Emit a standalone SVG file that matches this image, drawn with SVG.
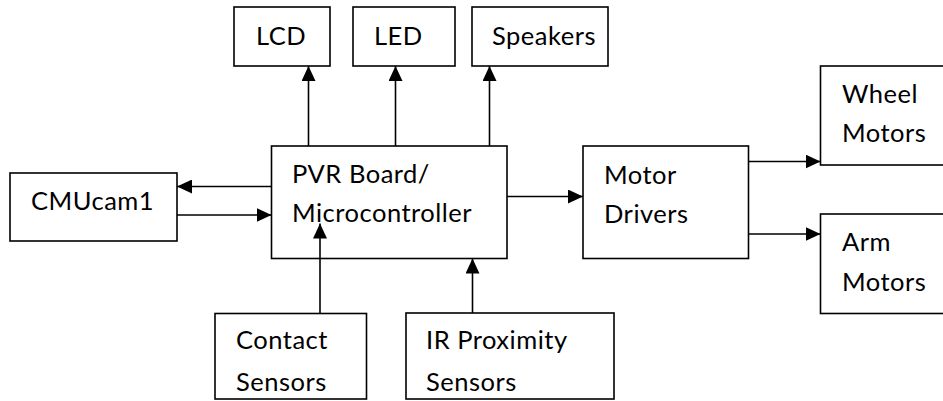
<svg xmlns="http://www.w3.org/2000/svg" width="943" height="401" viewBox="0 0 943 401">
<style>
.box{fill:#fff;stroke:#000;stroke-width:1.6}
.t{font-family:Lato,"Open Sans",sans-serif;font-size:25.5px;letter-spacing:0.5px;fill:#000}
.c{stroke:#000;stroke-width:1.6;fill:none;marker-end:url(#ah)}
</style>
<defs>
<marker id="ah" viewBox="0 0 15 14" refX="15" refY="7" markerWidth="15" markerHeight="14" orient="auto" markerUnits="userSpaceOnUse">
<path d="M0,0 L15,7 L0,14 z" fill="#000"/>
</marker>
</defs>
<rect width="943" height="401" fill="#fff"/>
<g id="lcd"><rect class="box" x="234" y="7" width="96" height="59"/><text class="t" x="256" y="45">LCD</text></g>
<g id="led"><rect class="box" x="353" y="7" width="102" height="59"/><text class="t" x="374" y="45">LED</text></g>
<g id="speakers"><rect class="box" x="472" y="7" width="136" height="59"/><text class="t" x="492" y="45">Speakers</text></g>
<g id="pvr"><rect class="box" x="271.5" y="146" width="235.5" height="112.5"/><text class="t" x="292" y="183">PVR Board/</text><text class="t" x="292" y="222">Microcontroller</text></g>
<g id="cmucam"><rect class="box" x="10" y="173" width="167" height="68"/><text class="t" x="31" y="210">CMUcam1</text></g>
<g id="motordrivers"><rect class="box" x="583" y="146" width="165.5" height="112.5"/><text class="t" x="604" y="184">Motor</text><text class="t" x="604" y="223">Drivers</text></g>
<g id="wheelmotors"><rect class="box" x="820.5" y="66" width="140" height="99"/><text class="t" x="842" y="103">Wheel</text><text class="t" x="842" y="142">Motors</text></g>
<g id="armmotors"><rect class="box" x="820.5" y="214" width="140" height="99.5"/><text class="t" x="842" y="251">Arm</text><text class="t" x="842" y="291">Motors</text></g>
<g id="contact"><rect class="box" x="215" y="313.5" width="151.5" height="85.5"/><text class="t" x="236" y="349">Contact</text><text class="t" x="236" y="391">Sensors</text></g>
<g id="ir"><rect class="box" x="406" y="313" width="208" height="86"/><text class="t" x="426" y="349">IR Proximity</text><text class="t" x="426" y="391">Sensors</text></g>
<g id="connectors">
<line class="c" x1="308.5" y1="146" x2="308.5" y2="66"/>
<line class="c" x1="395.5" y1="146" x2="395.5" y2="66"/>
<line class="c" x1="489.5" y1="146" x2="489.5" y2="66"/>
<line class="c" x1="271.5" y1="186.5" x2="177" y2="186.5"/>
<line class="c" x1="177" y1="215" x2="271.5" y2="215"/>
<line class="c" x1="507" y1="196.5" x2="583" y2="196.5"/>
<line class="c" x1="748.5" y1="161.5" x2="820.5" y2="161.5"/>
<line class="c" x1="748.5" y1="234" x2="820.5" y2="234"/>
<line class="c" x1="320" y1="313.5" x2="320" y2="223.5"/>
<line class="c" x1="472.5" y1="313" x2="472.5" y2="258.5"/>
</g>
</svg>
